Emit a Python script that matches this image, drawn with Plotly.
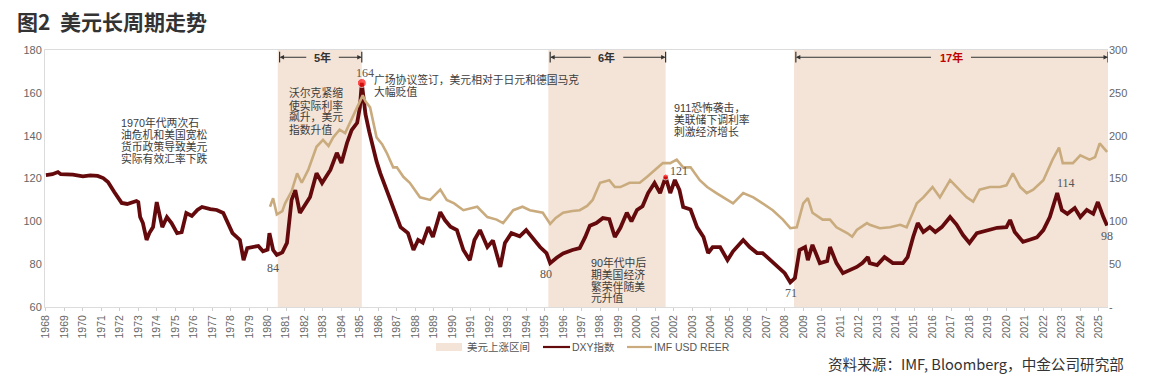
import plotly.graph_objects as go

# ---------------- data ----------------
dxy_year = [1968.0, 1968.35, 1968.65, 1968.8, 1969.46, 1970.0, 1970.4, 1970.8, 1971.1, 1971.36, 1971.7, 1971.9,
            1972.1, 1972.4, 1972.9, 1973.0, 1973.1, 1973.25, 1973.45, 1973.6, 1973.8, 1974.0, 1974.2, 1974.3,
            1974.55, 1974.8, 1975.1, 1975.35, 1975.6, 1975.9, 1976.2, 1976.45, 1976.9, 1977.25, 1977.6, 1977.85,
            1978.1, 1978.5, 1978.7, 1978.9, 1979.2, 1979.5, 1979.75, 1980.0, 1980.1, 1980.3, 1980.5, 1980.8,
            1981.05, 1981.3, 1981.5, 1981.75, 1982.3, 1982.65, 1982.95, 1983.4, 1983.75, 1984.0, 1984.3, 1984.55,
            1984.85, 1985.0, 1985.1, 1985.3, 1985.5, 1985.7, 1985.9, 1986.1, 1986.45, 1986.8, 1987.2, 1987.6,
            1987.9, 1988.15, 1988.4, 1988.7, 1988.95, 1989.35, 1989.6, 1989.9, 1990.25, 1990.6, 1990.95, 1991.2,
            1991.5, 1991.9, 1992.2, 1992.6, 1992.85, 1993.2, 1993.65, 1994.0, 1994.35, 1994.75, 1995.1, 1995.3,
            1995.65, 1996.0, 1996.5, 1996.9, 1997.2, 1997.45, 1997.8, 1998.15, 1998.5, 1998.8, 1999.1, 1999.45,
            1999.7, 2000.0, 2000.3, 2000.6, 2000.95, 2001.25, 2001.55, 2001.8, 2002.05, 2002.3, 2002.5, 2002.9,
            2003.25, 2003.6, 2003.85, 2004.1, 2004.5, 2004.9, 2005.2, 2005.75, 2006.1, 2006.5, 2006.8, 2007.2,
            2007.6, 2008.0, 2008.3, 2008.55, 2008.8, 2009.1, 2009.25, 2009.5, 2009.9, 2010.3, 2010.45, 2010.8,
            2011.15, 2011.5, 2011.9, 2012.2, 2012.5, 2012.6, 2013.0, 2013.4, 2013.85, 2014.4, 2014.65, 2014.95,
            2015.2, 2015.5, 2015.85, 2016.15, 2016.5, 2016.95, 2017.3, 2017.65, 2018.0, 2018.4, 2018.95, 2019.5,
            2020.0, 2020.2, 2020.45, 2020.9, 2021.3, 2021.65, 2022.0, 2022.35, 2022.75, 2023.0, 2023.3, 2023.7,
            2024.0, 2024.35, 2024.7, 2024.95, 2025.25, 2025.45]
dxy_value = [121.6, 122.0, 123.0, 122.0, 121.8, 121.0, 121.5, 121.2, 120.2, 118.4, 113.7, 111.5,
             108.6, 108.1, 109.5, 109.0, 102.0, 99.2, 91.3, 94.5, 97.3, 109.0, 100.6, 97.3,
             102.0, 99.2, 94.5, 95.0, 103.9, 102.5, 105.3, 106.7, 105.7, 105.3, 103.9, 99.2,
             94.5, 91.3, 81.9, 87.5, 88.0, 88.5, 86.0, 86.8, 94.5, 86.6, 84.3, 85.5,
             89.9, 110.0, 114.6, 103.9, 111.4, 122.5, 117.9, 124.0, 132.0, 127.2, 136.6, 142.6,
             146.0, 153.4, 164.6, 150.0, 142.0, 134.0, 128.0, 122.5, 114.6, 106.7, 97.3, 94.5,
             86.6, 91.3, 90.0, 97.3, 92.7, 104.3, 100.6, 97.5, 95.9, 86.6, 81.9, 91.3,
             95.9, 88.0, 91.0, 78.7, 89.9, 94.5, 93.0, 95.9, 92.0, 88.0, 85.2, 80.5,
             83.0, 85.0, 86.6, 87.5, 92.7, 98.0, 99.2, 101.5, 101.0, 92.7, 97.0, 104.0,
             100.0, 105.3, 107.0, 113.2, 117.9, 113.2, 120.7, 113.2, 119.3, 114.6, 106.7, 105.5,
             97.3, 92.7, 85.2, 88.0, 88.0, 81.9, 86.0, 91.3, 88.0, 85.2, 85.2, 81.9,
             78.7, 75.8, 71.5, 73.5, 86.6, 88.0, 81.9, 89.0, 80.5, 81.5, 88.0, 80.5,
             75.8, 77.0, 78.7, 80.5, 83.3, 80.5, 79.6, 83.3, 80.5, 80.5, 83.3, 92.7,
             99.2, 95.0, 97.3, 95.0, 97.3, 102.0, 98.5, 93.6, 89.9, 94.5, 95.9, 97.0,
             97.3, 100.6, 95.0, 90.4, 91.5, 92.5, 95.9, 102.0, 113.2, 105.3, 103.5, 106.2,
             102.0, 105.3, 103.5, 109.0, 102.0, 98.0]

reer_year = [1980.13, 1980.3, 1980.5, 1980.8, 1980.95, 1981.3, 1981.6, 1981.85, 1982.2, 1982.65, 1983.0, 1983.3,
             1983.55, 1983.9, 1984.2, 1984.45, 1984.85, 1985.15, 1985.3, 1985.55, 1985.9, 1986.2, 1986.45, 1986.8,
             1987.0, 1987.35, 1987.7, 1988.0, 1988.25, 1988.8, 1989.35, 1989.7, 1990.1, 1990.6, 1991.0, 1991.35,
             1991.9, 1992.4, 1992.75, 1993.3, 1993.8, 1994.2, 1994.9, 1995.3, 1995.6, 1996.0, 1996.5, 1996.9,
             1997.3, 1997.6, 1998.0, 1998.5, 1998.8, 1999.1, 1999.6, 2000.15, 2000.55, 2001.1, 2001.4, 2001.8,
             2002.15, 2002.5, 2002.9, 2003.4, 2003.8, 2004.3, 2004.9, 2005.2, 2005.75, 2006.3, 2006.8, 2007.35,
             2007.9, 2008.3, 2008.65, 2009.0, 2009.25, 2009.5, 2010.05, 2010.45, 2010.8, 2011.4, 2011.65, 2011.9,
             2012.45, 2012.6, 2013.15, 2013.7, 2014.25, 2014.6, 2015.15, 2015.5, 2016.0, 2016.4, 2016.95, 2017.3,
             2017.85, 2018.2, 2018.55, 2019.1, 2019.65, 2020.0, 2020.35, 2020.75, 2021.1, 2021.45, 2022.0, 2022.5,
             2022.85, 2023.05, 2023.6, 2024.0, 2024.5, 2024.8, 2025.05, 2025.45]
reer_value = [117, 127, 108, 112, 121, 135, 156, 145, 160, 187, 195, 188,
              198, 207, 203, 215, 233, 247, 240, 233, 198, 190, 180, 163,
              163, 152, 145, 135, 128, 125, 137, 125, 121, 113, 115, 117,
              105, 102, 98, 113, 117, 113, 110, 97, 104, 110, 112, 113,
              118, 125, 145, 148, 140, 140, 145, 145, 152, 163, 168, 168,
              172, 163, 163, 148, 140, 133, 125, 121, 133, 128, 121, 113,
              102, 92, 93, 121, 127, 110, 102, 102, 93, 86, 82, 90,
              98, 96, 92, 93, 96, 93, 121, 128, 140, 128, 148, 140,
              128, 123, 137, 140, 140, 142, 156, 140, 133, 137, 148, 172,
              186, 168, 168, 177, 172, 175, 191, 181]

# rising-dollar periods (start, end, label)
up_start = [1980.55, 1995.2, 2008.5]
up_end = [1985.1, 2001.55, 2025.5]
up_label = ["5年", "6年", "17年"]

# marked values
mark_year = [1980.5, 1985.1, 1995.3, 2001.55, 2008.3, 2022.75, 2025.45]
mark_value = [84, 164, 80, 121, 71, 114, 98]
peak_year = [1985.1, 2001.55]
peak_value = [164.6, 120.7]

years = list(range(1968, 2026))

# ---------------- geometry helpers ----------------
W, H = 1153, 380
L, R, T, B = 45, 1108, 50, 307
def px(x):
    return (x - L) / (R - L)
def py(y):
    return (B - y) / (B - T)

DXY_C = "#650A0C"
REER_C = "#C9AB7E"
SHADE_C = "#F3E4D7"
CJK = "Noto Sans CJK SC"
MIX = "Liberation Sans, Noto Sans CJK SC"
AX_C = "#666666"

fig = go.Figure()

fig.add_trace(go.Scatter(x=reer_year, y=reer_value, yaxis="y2", mode="lines",
                         line=dict(color=REER_C, width=2.6), name="IMF USD REER", showlegend=False))
fig.add_trace(go.Scatter(x=dxy_year, y=dxy_value, mode="lines",
                         line=dict(color=DXY_C, width=3.8), name="DXY指数", showlegend=False))
fig.add_trace(go.Scatter(x=peak_year, y=peak_value, mode="markers",
                         marker=dict(color="#FF1010", size=[9, 6]), showlegend=False))

shapes = []
annotations = []

# shaded regions + brackets
ya = 176.6
for s, e, lab in zip(up_start, up_end, up_label):
    shapes.append(dict(type="rect", xref="x", yref="paper", x0=s, x1=e, y0=0, y1=1,
                       fillcolor=SHADE_C, line=dict(width=0), layer="below"))
    for xb in (s + 0.1, e):
        shapes.append(dict(type="line", xref="x", yref="y", x0=xb, x1=xb, y0=174.2, y1=179.2,
                           line=dict(color="#333", width=1.2)))
    mid = (s + e) / 2 + (0.15 if lab == "5年" else 0)
    gap = 0.8 if lab != "17年" else 1.0
    red = lab == "17年"
    annotations.append(dict(x=mid, y=ya, xref="x", yref="y", text=f"<b>{lab}</b>", showarrow=False,
                            font=dict(family=MIX, size=11, color="#C00000" if red else "#333"),
                            xanchor="center", yanchor="middle"))
    for tgt, tail in ((s + 0.1, mid - gap), (e, mid + gap)):
        annotations.append(dict(x=tgt, y=ya, ax=tail, ay=ya, xref="x", yref="y", axref="x", ayref="y",
                                text="", showarrow=True, arrowhead=2, arrowsize=0.9, arrowwidth=1,
                                arrowcolor="#333"))

# value labels
lab_pos = {84: (273, 268), 164: (365, 73), 80: (546, 274), 121: (679, 171), 71: (791, 293),
           114: (1066, 183), 98: (1107, 236)}
for yv, v in zip(mark_year, mark_value):
    x0, y0 = lab_pos[v]
    annotations.append(dict(x=px(x0), y=py(y0), xref="paper", yref="paper", text=str(v), showarrow=False,
                            font=dict(family="Liberation Serif", size=12, color="#555"),
                            xanchor="center", yanchor="middle"))

# text blocks
def block(lines, x0, ys, size=10.8):
    for t, yy in zip(lines, ys):
        annotations.append(dict(x=px(x0), y=py(yy), xref="paper", yref="paper", text=t, showarrow=False,
                                font=dict(family=MIX, size=size, color="#3c3c3c"),
                                xanchor="left", yanchor="middle"))

block(["1970年代两次石", "油危机和美国宽松", "货币政策导致美元", "实际有效汇率下跌"], 119, [122, 134, 146, 158])
block(["沃尔克紧缩", "使实际利率", "飙升，美元", "指数升值"], 287, [93, 105, 117, 129])
block(["广场协议签订，美元相对于日元和德国马克", "大幅贬值"], 372, [79, 91])
block(["911恐怖袭击，", "美联储下调利率", "刺激经济增长"], 672, [107, 119, 131])
block(["90年代中后", "期美国经济", "繁荣伴随美", "元升值"], 589, [262, 274, 286, 298])

# title
annotations.append(dict(x=px(15), y=py(21), xref="paper", yref="paper", text="<b>图2  美元长周期走势</b>",
                        showarrow=False, font=dict(family=CJK, size=21, color="#333"),
                        xanchor="left", yanchor="middle"))
# source
annotations.append(dict(x=px(1126), y=py(363), xref="paper", yref="paper",
                        text="资料来源：IMF, Bloomberg，中金公司研究部", showarrow=False,
                        font=dict(family=CJK, size=14.6, color="#333"), xanchor="right", yanchor="middle"))

# legend (manual)
ly = 347
shapes.append(dict(type="rect", xref="paper", yref="paper", x0=px(436), x1=px(462), y0=py(351), y1=py(343),
                   fillcolor=SHADE_C, line=dict(width=0)))
shapes.append(dict(type="line", xref="paper", yref="paper", x0=px(543), x1=px(570), y0=py(ly), y1=py(ly),
                   line=dict(color=DXY_C, width=2.2)))
shapes.append(dict(type="line", xref="paper", yref="paper", x0=px(627), x1=px(652), y0=py(ly), y1=py(ly),
                   line=dict(color=REER_C, width=2.2)))
for t, x0 in (("美元上涨区间", 465), ("DXY指数", 570), ("IMF USD REER", 652)):
    annotations.append(dict(x=px(x0), y=py(ly), xref="paper", yref="paper", text=t, showarrow=False,
                            font=dict(family=MIX, size=10.5, color="#555"),
                            xanchor="left", yanchor="middle"))

fig.update_layout(
    width=W, height=H,
    margin=dict(l=L, r=W - R, t=T, b=H - B, autoexpand=False),
    paper_bgcolor="white", plot_bgcolor="white",
    showlegend=False,
    xaxis=dict(range=[1967.95, 2025.5], tickmode="array", tickvals=years, ticktext=[str(y) for y in years],
               tickangle=-90, tickfont=dict(family="Liberation Sans", size=10.5, color=AX_C), color=AX_C,
               showgrid=False, zeroline=False, showline=True, linecolor="#dcdcdc", mirror=True,
               ticks="outside", ticklen=3, tickcolor="#cfcfcf", automargin=False),
    yaxis=dict(range=[60, 180], tickvals=[60, 80, 100, 120, 140, 160, 180], color=AX_C,
               tickfont=dict(family="Liberation Sans", size=11, color=AX_C),
               showgrid=False, zeroline=False, showline=True, linecolor="#dcdcdc", ticks="",
               automargin=False),
    yaxis2=dict(range=[0, 300], overlaying="y", side="right", tickvals=[0, 50, 100, 150, 200, 250, 300],
                ticktext=["-", "50", "100", "150", "200", "250", "300"], color=AX_C,
                tickfont=dict(family="Liberation Sans", size=11, color=AX_C),
                showgrid=False, zeroline=False, showline=False, ticks="", automargin=False),
    shapes=shapes, annotations=annotations,
)

fig.write_html("out.html", config={"displayModeBar": False},
               post_script="document.body.style.margin='0';document.body.style.overflow='hidden';")
